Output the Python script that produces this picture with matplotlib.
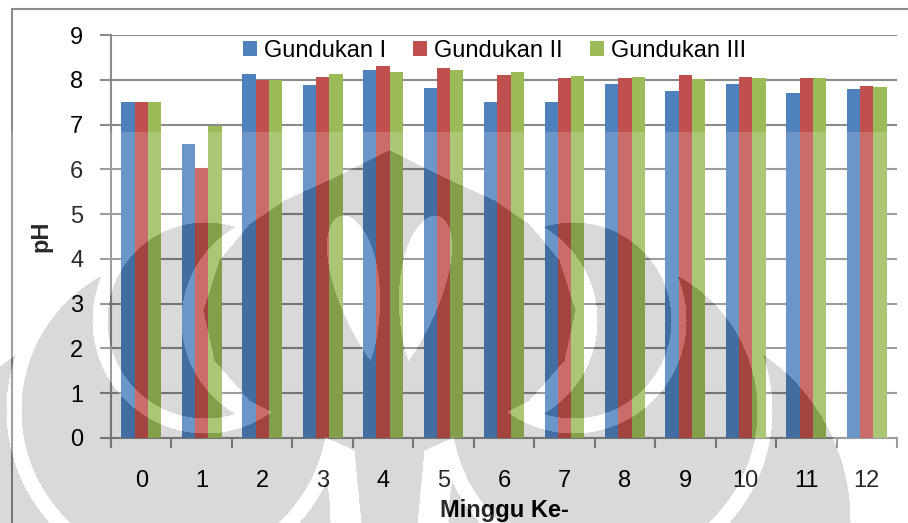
import numpy as np
import matplotlib.pyplot as plt

minggu = ['0', '1', '2', '3', '4', '5', '6', '7', '8', '9', '10', '11', '12']
gundukan_1 = [7.50, 6.57, 8.13, 7.88, 8.21, 7.82, 7.51, 7.51, 7.91, 7.74, 7.90, 7.71, 7.80]
gundukan_2 = [7.50, 6.03, 8.00, 8.07, 8.30, 8.26, 8.10, 8.04, 8.04, 8.11, 8.06, 8.04, 7.87]
gundukan_3 = [7.50, 6.96, 8.00, 8.13, 8.18, 8.22, 8.18, 8.09, 8.06, 8.01, 8.04, 8.04, 7.84]
seri = ['Gundukan I', 'Gundukan II', 'Gundukan III']
warna = ['#4F81BD', '#C0504D', '#9BBB59']

plt.rcParams['font.family'] = ['Liberation Sans', 'DejaVu Sans']

W, H = 908, 523
fig = plt.figure(figsize=(W / 100, H / 100), dpi=100)
ax = fig.add_axes([111 / W, 1 - 438 / H, 786 / W, 403 / H])

# bingkai grafik
fig.patches.append(plt.Rectangle((12 / W, -0.1), 1.2, 1 - 9 / H + 0.1,
                                 transform=fig.transFigure, fill=False,
                                 edgecolor='#8c8c8c', linewidth=1.5))

x = np.arange(len(minggu))
lebar = 0.22
for i, (nilai, nama, c) in enumerate(zip([gundukan_1, gundukan_2, gundukan_3], seri, warna)):
    ax.bar(x + (i - 1) * lebar, nilai, lebar, color=c, label=nama, zorder=3)

ax.set_xlim(-0.5, 12.5)
ax.set_ylim(0, 9)
ax.set_yticks(range(10))
ax.grid(axis='y', color='#8a8a8a', linewidth=1.5, zorder=0)
for s in ['top', 'right']:
    ax.spines[s].set_visible(False)
for s in ['left', 'bottom']:
    ax.spines[s].set_color('#8a8a8a')
    ax.spines[s].set_linewidth(1.5)

ax.set_xticks(x)
ax.set_xticklabels(minggu)
ax.set_xticks(np.arange(-0.5, 13, 1), minor=True)
ax.tick_params(axis='x', which='major', length=0, pad=23, labelsize=17)
ax.tick_params(axis='x', which='minor', length=7, width=1.5, color='#8a8a8a')
ax.tick_params(axis='y', length=8, width=1.5, color='#8a8a8a', pad=12, labelsize=17)

ax.set_ylabel('pH', fontsize=17, fontweight='bold')
ax.yaxis.set_label_coords(-0.075, 0.5)
ax.set_xlabel('Minggu Ke-', fontsize=17, fontweight='bold')
ax.xaxis.set_label_coords(0.5, -0.152)

ax.legend(loc='center', bbox_to_anchor=(0.488, 0.9615), ncol=3, frameon=False,
          fontsize=17, handlelength=0.6, handleheight=0.6, handletextpad=0.3,
          columnspacing=1.13, borderpad=0)

# watermark logo makara (abu-abu transparan) di bagian bawah halaman
yy, xx = np.mgrid[0:H, 0:W].astype(float)
u = np.abs(xx - 389)

def lingkaran(cu, cy, r):
    return (u - cu) ** 2 + (yy - cy) ** 2 <= r ** 2

tepi_y = [150, 175, 200, 224, 260, 310, 360, 400, 425, 450, 523]
tepi_u = [0, 50, 105, 140, 170, 186, 175, 140, 90, 35, 28]
nyala = (yy >= 150) & (u <= np.interp(yy, tepi_y, tepi_u))

s = np.clip((yy - 215) / 145, 0, 1)
tengah = 46 - 27 * s
lobus = (yy >= 215) & (yy <= 360) & (np.abs(u - tengah) <= 60 * s ** 0.5 * (1 - s) ** 0.9)

sabit1 = lingkaran(184, 320, 98) & ~lingkaran(100, 320, 108)
sabit2 = lingkaran(215, 410, 153) & ~lingkaran(184, 320, 113) & (yy >= 275)
sabit3 = lingkaran(260, 520, 201) & ~lingkaran(215, 410, 168) & (yy >= 355)

abu = ((nyala & ~lobus) | sabit1 | sabit2 | sabit3) & (yy >= 132)
kabut = (yy >= 132) & ~abu

overlay = np.zeros((H, W, 4))
overlay[kabut] = [1, 1, 1, 0.17]
overlay[abu] = [0, 0, 0, 0.15]
fig.figimage(overlay, xo=0, yo=0, origin='upper', zorder=10)

fig.savefig('out.png', dpi=100)
